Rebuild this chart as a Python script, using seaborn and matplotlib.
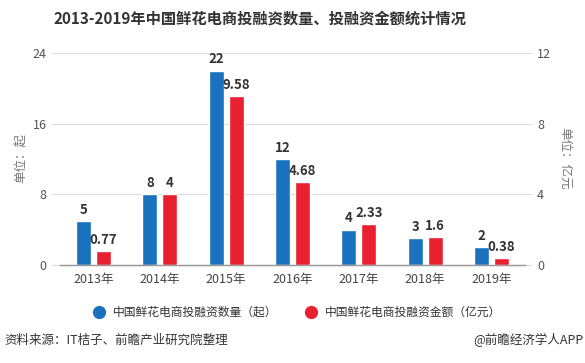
import pandas as pd
import matplotlib.pyplot as plt
import seaborn as sns
from matplotlib.lines import Line2D

sns.set_style("white")
plt.rcParams['font.family'] = ['Noto Sans CJK SC', 'DejaVu Sans']

years = ['2013年', '2014年', '2015年', '2016年', '2017年', '2018年', '2019年']
deal_count = [5, 8, 22, 12, 4, 3, 2]
deal_amount = [0.77, 4, 9.58, 4.68, 2.33, 1.6, 0.38]

count_name = '中国鲜花电商投融资数量（起）'
amount_name = '中国鲜花电商投融资金额（亿元）'
blue = '#1a72be'
red = '#e8202f'
palette = {count_name: blue, amount_name: red}
hue_order = [count_name, amount_name]

df_count = pd.DataFrame({'year': years, 'value': deal_count, 'series': count_name})
df_amount = pd.DataFrame({'year': years, 'value': deal_amount, 'series': amount_name})

fig = plt.figure(figsize=(5.85, 3.63), dpi=100)
ax1 = fig.add_axes([0.1032, 0.27, 0.7935, 0.584])
ax2 = ax1.twinx()

sns.barplot(data=df_count, x='year', y='value', hue='series', hue_order=hue_order,
            order=years, palette=palette, width=0.603, gap=0.25, dodge=True,
            saturation=1, legend=False, ax=ax1, zorder=2)
sns.barplot(data=df_amount, x='year', y='value', hue='series', hue_order=hue_order,
            order=years, palette=palette, width=0.603, gap=0.25, dodge=True,
            saturation=1, legend=False, ax=ax2, zorder=2)

ax1.set_ylim(0, 24)
ax2.set_ylim(0, 12)
ax1.set_xlim(-0.5, 6.5)
ax1.set_yticks([0, 8, 16, 24])
ax2.set_yticks([0, 4, 8, 12])

# gridlines stretch a bit past the plot area
for y in [8, 16, 24]:
    ax1.axhline(y, xmin=-0.017, xmax=1.017, color='#dddddd', lw=0.8, clip_on=False, zorder=0)
ax1.axhline(0, xmin=-0.017, xmax=0, color='#dddddd', lw=0.8, clip_on=False, zorder=0)
ax1.axhline(0, xmin=1, xmax=1.017, color='#dddddd', lw=0.8, clip_on=False, zorder=0)

for a in (ax1, ax2):
    a.set_xlabel('')
    a.set_ylabel('')
    for s in ['top', 'left', 'right']:
        a.spines[s].set_visible(False)
    a.spines['bottom'].set_color('#999999')
    a.spines['bottom'].set_linewidth(0.9)

ax1.tick_params(axis='y', length=0, pad=10, labelsize=9, labelcolor='#555555')
ax2.tick_params(axis='y', length=0, pad=9, labelsize=9, labelcolor='#555555')
ax1.tick_params(axis='x', length=4, color='#999999', labelsize=9, labelcolor='#444444', pad=2)


def full_container(ax):
    for c in ax.containers:
        if len(c) and all(b is not None for b in c):
            return c


ax1.bar_label(full_container(ax1), labels=[f'{v:g}' for v in deal_count], padding=3,
              fontsize=9.5, fontweight='bold', color='#333333')
ax2.bar_label(full_container(ax2), labels=[f'{v:g}' for v in deal_amount], padding=3,
              fontsize=9.5, fontweight='bold', color='#333333')

fig.text(0.035, 0.565, '单位：起', rotation=90, ha='center', va='center', fontsize=9, color='#777777')
fig.text(0.965, 0.565, '单位：亿元', rotation=270, ha='center', va='center', fontsize=9, color='#777777')

fig.text(0.445, 0.95, '2013-2019年中国鲜花电商投融资数量、投融资金额统计情况',
         ha='center', va='center', fontsize=11, fontweight='bold', color='#333333')

handles = [Line2D([0], [0], marker='o', ls='', markersize=8.5, markerfacecolor=blue, markeredgecolor=blue),
           Line2D([0], [0], marker='o', ls='', markersize=8.5, markerfacecolor=red, markeredgecolor=red)]
fig.legend(handles, hue_order, loc='center', bbox_to_anchor=(0.503, 0.14), ncol=2, frameon=False,
           fontsize=8.5, handletextpad=0.2, columnspacing=1.8, labelcolor='#333333')

fig.text(0.008, 0.063, '资料来源：IT桔子、前瞻产业研究院整理', ha='left', va='center', fontsize=9, color='#333333')
fig.text(0.997, 0.063, '@前瞻经济学人APP', ha='right', va='center', fontsize=9, color='#333333')

fig.savefig('out.png', dpi=100)
